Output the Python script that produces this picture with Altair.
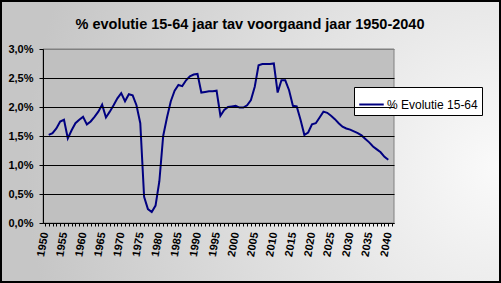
import altair as alt
import pandas as pd

title_text = "% evolutie 15-64 jaar tav voorgaand jaar 1950-2040"
series_name = "% Evolutie 15-64"

years = list(range(1951, 2041))
values = [
    1.52, 1.55, 1.63, 1.75, 1.78, 1.46, 1.60, 1.72, 1.78, 1.83,   # 1951-1960
    1.70, 1.75, 1.83, 1.92, 2.04, 1.82, 1.92, 2.03, 2.15, 2.24,   # 1961-1970
    2.10, 2.22, 2.20, 2.03, 1.72, 0.45, 0.24, 0.19, 0.30, 0.72,   # 1971-1980
    1.50, 1.82, 2.10, 2.28, 2.38, 2.36, 2.46, 2.53, 2.56, 2.57,   # 1981-1990
    2.25, 2.26, 2.27, 2.27, 2.28, 1.85, 1.95, 2.00, 2.01, 2.02,   # 1991-2000
    1.99, 1.99, 2.03, 2.12, 2.35, 2.72, 2.74, 2.74, 2.74, 2.75,   # 2001-2010
    2.25, 2.46, 2.46, 2.29, 2.02, 2.01, 1.78, 1.52, 1.56, 1.70,   # 2011-2020
    1.72, 1.82, 1.92, 1.90, 1.85, 1.79, 1.72, 1.66, 1.63, 1.61,   # 2021-2030
    1.58, 1.55, 1.51, 1.45, 1.39, 1.32, 1.27, 1.22, 1.14, 1.09,   # 2031-2040
]
y_ticks = [0.0, 0.5, 1.0, 1.5, 2.0, 2.5, 3.0]
x_ticks = list(range(1950, 2042))

df = pd.DataFrame({"jaar": years, "waarde": values, "reeks": [series_name] * len(years)})

FONT = "Liberation Sans"
W, H = 351, 174

background = alt.Chart(alt.Data(values=[{}])).mark_rect(
    fill=alt.Gradient(
        gradient="radial",
        x1=1.0, y1=0.55, r1=0.0,
        x2=1.0, y2=0.55, r2=0.95,
        stops=[alt.GradientStop(offset=0, color="#fafafa"),
               alt.GradientStop(offset=1, color="#c6c6c6")],
    ),
    stroke="black",
    strokeWidth=2,
).encode(
    x=alt.value(-42), x2=alt.value(457), y=alt.value(-48), y2=alt.value(233)
)

plot_bg = alt.Chart(alt.Data(values=[{}])).mark_rect(
    fill="#c0c0c0", stroke="#808080", strokeWidth=1
).encode(
    x=alt.value(0), x2=alt.value(W), y=alt.value(0), y2=alt.value(H)
)

title = alt.Chart(alt.Data(values=[{"t": title_text}])).mark_text(
    font=FONT, fontSize=14.5, fontWeight="bold", color="black",
    align="center", baseline="alphabetic",
).encode(
    text="t:N", x=alt.value(207), y=alt.value(-20)
)

line = alt.Chart(df).mark_line(strokeWidth=2).encode(
    x=alt.X(
        "jaar:Q",
        scale=alt.Scale(domain=[1949.5, 2041.5], nice=False, zero=False),
        axis=alt.Axis(
            title=None,
            values=x_ticks,
            labelExpr="(datum.value % 5 == 0 && datum.value <= 2040) ? datum.value : ''",
            labelAngle=280,
            labelFont=FONT,
            labelFontSize=11,
            labelFontWeight="bold",
            labelColor="black",
            labelPadding=6,
            labelOverlap=False,
            labelFlush=False,
            tickSize=3,
            tickColor="black",
            domainColor="black",
            grid=False,
            zindex=1,
        ),
    ),
    y=alt.Y(
        "waarde:Q",
        scale=alt.Scale(domain=[0, 3], nice=False),
        axis=alt.Axis(
            title=None,
            values=y_ticks,
            labelExpr="replace(format(datum.value, '.1f'), '.', ',') + '%'",
            labelFont=FONT,
            labelFontSize=11,
            labelFontWeight="bold",
            labelColor="black",
            labelPadding=6,
            tickSize=4,
            tickColor="black",
            domainColor="black",
            grid=True,
            gridColor={"condition": {"test": "datum.value >= 3", "value": "#808080"}, "value": "black"},
            gridOpacity=1,
            zindex=1,
        ),
    ),
    color=alt.Color(
        "reeks:N",
        scale=alt.Scale(range=["#000080"]),
        legend=alt.Legend(
            title=None,
            orient="none",
            legendX=311,
            legendY=38,
            fillColor="white",
            strokeColor="black",
            padding=4,
            symbolType="stroke",
            symbolSize=600,
            symbolStrokeWidth=2,
            labelFont=FONT,
            labelFontSize=12,
            labelColor="black",
            labelOffset=2,
        ),
    ),
)

chart = alt.layer(background, plot_bg, title, line).properties(
    width=W,
    height=H,
    autosize=alt.AutoSizeParams(type="none"),
    padding={"left": 43, "top": 49, "right": 107, "bottom": 60},
).configure_view(stroke=None).configure(background="#d0d0d0")

chart.save("out.html", embed_options={"renderer": "svg", "actions": False})
